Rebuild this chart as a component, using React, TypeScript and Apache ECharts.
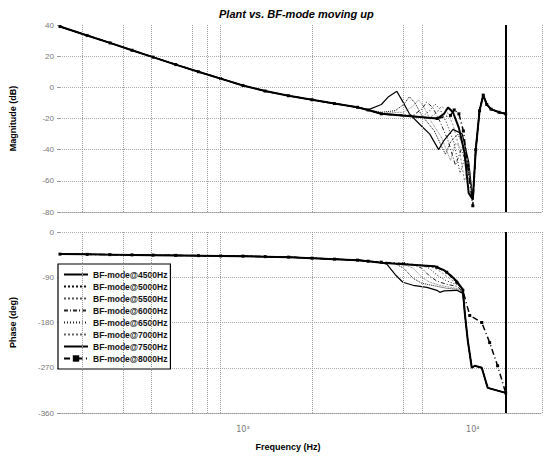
import React, { useEffect, useRef } from 'react';
import * as echarts from 'echarts';

const seriesNames = [
  'BF-mode@4500Hz', 'BF-mode@5000Hz', 'BF-mode@5500Hz', 'BF-mode@6000Hz',
  'BF-mode@6500Hz', 'BF-mode@7000Hz', 'BF-mode@7500Hz', 'BF-mode@8000Hz',
];

// shared low-frequency part (Hz, dB, deg)
const baseFreq = [160, 210, 264, 329, 406, 510, 640, 800, 1000, 1250, 1580, 2000, 2500, 3150, 3500];
const baseMag = [39, 33.3, 28.5, 23.8, 19.4, 14.6, 10, 5.6, 1.2, -2.4, -5.4, -8, -10.4, -12.8, -14.5];
const basePhase = [-44, -44.5, -45, -45.5, -46, -46.5, -47, -47.5, -48, -49, -50, -52, -54, -56, -58];

// magnitude tails per series [Hz, dB]
const magTail4500 = [[4000, -11], [4300, -6], [4670, -2.5], [4950, -9], [5300, -17], [5900, -24], [6500, -30], [7100, -40], [7500, -34], [8200, -27], [9000, -30], [9600, -48], [10000, -72]];
const magTail5000 = [[4000, -16], [4600, -15], [5000, -11], [5300, -6], [5600, -10], [6000, -18], [6800, -28], [7600, -43], [8000, -35], [8600, -30], [9300, -40], [10000, -72]];
const magTail5500 = [[4000, -16.5], [5000, -16], [5500, -12], [5800, -8], [6100, -12], [6600, -22], [7300, -32], [8000, -47], [8400, -36], [9200, -40], [10000, -72]];
const magTail6000 = [[4000, -17], [5500, -18], [6000, -14], [6300, -9.5], [6700, -13], [7200, -22], [7800, -34], [8400, -50], [8900, -40], [9500, -50], [10000, -72]];
const magTail6500 = [[4000, -17], [6000, -19], [6500, -15], [6850, -10.7], [7200, -14], [7700, -23], [8300, -36], [8800, -55], [9300, -44], [10000, -72]];
const magTail7000 = [[4000, -17], [6500, -19.5], [7000, -16], [7300, -12], [7700, -15], [8200, -24], [8700, -38], [9200, -60], [9600, -50], [10000, -72]];
const magTail7500 = [[4000, -17], [7000, -20], [7500, -17], [7800, -13], [8200, -16], [8700, -26], [9200, -42], [9600, -68], [10000, -72]];
const magTail8000 = [[4000, -17], [7000, -20], [8000, -18], [8300, -14.5], [8700, -17], [9100, -28], [9500, -50], [10000, -76]];
const magEnd = [[10300, -40], [10700, -15], [11100, -5], [11500, -11], [12000, -14], [13000, -16], [13900, -17]];

// phase tails per series [Hz, deg]
const phTail4500 = [[4000, -61], [4226, -64], [4600, -85], [4963, -100], [5500, -106], [6318, -110], [6977, -116], [7185, -120], [7500, -117], [8515, -116], [9050, -122]];
const phTail5000 = [[4000, -61], [4600, -63], [5000, -72], [5500, -92], [6000, -102], [6977, -108], [7703, -112], [8515, -114], [9050, -120]];
const phTail5500 = [[4000, -61], [5000, -64], [5500, -72], [6000, -90], [6500, -100], [7185, -106], [8000, -110], [8515, -112], [9050, -119]];
const phTail6000 = [[4000, -61], [5500, -65], [6000, -72], [6500, -88], [7000, -98], [7703, -104], [8515, -108], [9050, -118]];
const phTail6500 = [[4000, -61], [6000, -66], [6500, -73], [7000, -86], [7600, -96], [8200, -102], [8700, -106], [9050, -117]];
const phTail7000 = [[4000, -61], [6318, -67], [6977, -74], [7500, -84], [8000, -94], [8600, -102], [9050, -114]];
const phTail7500 = [[4000, -61], [6800, -68], [7500, -76], [8000, -86], [8515, -98], [9050, -114]];
const phTail8000 = [[4000, -60], [5000, -63], [6977, -70], [7703, -80], [8515, -100], [9050, -116]];
const phEnd = [[9232, -162], [9510, -216], [9900, -270], [10200, -266], [10940, -270], [11270, -290], [11610, -310], [13900, -320]];
const phEnd8000 = [[9700, -166], [10940, -180], [11840, -220], [12820, -266], [13900, -320]];

const magTicks = [-80, -60, -40, -20, 0, 20, 40];
const phaseTicks = [-360, -270, -180, -90, 0];
const gridFreqs = [200, 300, 400, 600, 700, 800, 2000, 5000, 6000];
const endFreq = 13900;

const magTails = [magTail4500, magTail5000, magTail5500, magTail6000, magTail6500, magTail7000, magTail7500, magTail8000];
const phTails = [phTail4500, phTail5000, phTail5500, phTail6000, phTail6500, phTail7000, phTail7500, phTail8000];

const lineStyles: any[] = [
  { width: 1.2, type: 'solid', color: '#000' },
  { width: 1, type: 'dotted', color: '#111' },
  { width: 0.8, type: 'dotted', color: '#555' },
  { width: 1, type: [4, 2, 1, 2], color: '#222' },
  { width: 1, type: [1, 2], color: '#222' },
  { width: 0.8, type: [2, 2], color: '#666' },
  { width: 2, type: 'solid', color: '#000' },
  { width: 1.5, type: [6, 3, 1, 3], color: '#000' },
];

const FONT = 'Liberation Sans, Arial, sans-serif';

export default function App() {
  const ref = useRef<HTMLDivElement>(null);
  useEffect(() => {
    document.body.style.margin = '0';
    if (!ref.current) return;
    const chart = echarts.init(ref.current, undefined, { renderer: 'svg' });

    const vLines = (withEnd: boolean) => ({
      silent: true,
      symbol: ['none', 'none'],
      label: { show: false },
      lineStyle: { type: 'dotted', color: '#999', width: 1 },
      data: [
        ...gridFreqs.map((f) => ({ xAxis: f })),
        { xAxis: 20000 },
        ...(withEnd ? [{ xAxis: endFreq, lineStyle: { type: 'solid', color: '#000', width: 2 } }] : []),
      ],
    });

    const series: any[] = [];
    seriesNames.forEach((name, i) => {
      const magData = baseFreq.map((f, j) => [f, baseMag[j]]).concat(magTails[i], magEnd);
      const phData = baseFreq.map((f, j) => [f, basePhase[j]]).concat(phTails[i], i === 7 ? phEnd8000 : phEnd);
      const isMarked = i === 7;
      const common = {
        type: 'line',
        name,
        symbol: isMarked ? 'rect' : 'none',
        symbolSize: 3,
        showSymbol: isMarked,
        itemStyle: { color: '#000' },
        lineStyle: lineStyles[i],
        silent: true,
        z: i === 6 ? 5 : 3,
      };
      series.push({ ...common, xAxisIndex: 0, yAxisIndex: 0, data: magData, ...(i === 0 ? { markLine: vLines(true) } : {}) });
      series.push({ ...common, xAxisIndex: 1, yAxisIndex: 1, data: phData, ...(i === 0 ? { markLine: vLines(true) } : {}) });
    });

    const xAxisBase = {
      type: 'log',
      logBase: 10,
      min: 160,
      max: 20000,
      axisTick: { show: false },
      splitLine: { show: false },
      axisLine: { onZero: false, lineStyle: { type: 'dotted', color: '#999' } },
    };

    const yAxisBase = {
      type: 'value',
      nameLocation: 'middle',
      nameTextStyle: { fontWeight: 'bold', fontSize: 9, fontFamily: FONT, color: '#000' },
      axisLine: { show: false },
      axisTick: { show: true, length: 3, lineStyle: { color: '#999' } },
      axisLabel: { fontSize: 8, color: '#777', margin: 6, fontFamily: FONT },
    };

    chart.setOption({
      animation: false,
      backgroundColor: '#fff',
      title: {
        text: 'Plant vs. BF-mode moving up',
        left: 214,
        top: 3,
        textStyle: { fontSize: 11, fontWeight: 'bold', fontStyle: 'italic', fontFamily: FONT, color: '#000' },
      },
      legend: {
        data: seriesNames.map((n, i) => (i === 7 ? { name: n, itemStyle: { opacity: 1 } } : { name: n, itemStyle: { opacity: 0 } })),
        orient: 'vertical',
        left: 58,
        top: 264,
        itemGap: 1,
        itemWidth: 24,
        itemHeight: 8,
        padding: [5, 3, 5, 5],
        borderColor: '#000',
        borderWidth: 1.2,
        backgroundColor: '#fff',
        textStyle: { fontSize: 8.5, fontWeight: 'bold', fontFamily: FONT, color: '#111', lineHeight: 11 },
      },
      grid: [
        { left: 60, right: 6, top: 25, height: 187 },
        { left: 60, right: 6, top: 232, height: 181 },
      ],
      xAxis: [
        { ...xAxisBase, gridIndex: 0, axisLabel: { show: false } },
        {
          ...xAxisBase,
          gridIndex: 1,
          axisLabel: {
            fontSize: 8,
            color: '#777',
            margin: 12,
            fontFamily: 'DejaVu Sans, sans-serif',
            showMinLabel: false,
            showMaxLabel: false,
            formatter: (v: number) => {
              const l = Math.log10(v);
              if (Math.abs(l - 3) < 0.001) return '10³';
              if (Math.abs(l - 4) < 0.001) return '10⁴';
              return '';
            },
          },
        },
      ],
      yAxis: [
        {
          ...yAxisBase, gridIndex: 0, min: magTicks[0], max: magTicks[magTicks.length - 1], interval: 20,
          name: 'Magnitude (dB)', nameGap: 43,
          splitLine: { showMaxLine: false, lineStyle: { type: 'dotted', color: '#aaa' } },
        },
        {
          ...yAxisBase, gridIndex: 1, min: phaseTicks[0], max: phaseTicks[phaseTicks.length - 1], interval: 90,
          name: 'Phase (deg)', nameGap: 43,
          splitLine: { lineStyle: { type: 'dotted', color: '#aaa' } },
        },
      ],
      graphic: [
        {
          type: 'text',
          x: 288,
          y: 447,
          style: { text: 'Frequency (Hz)', fontSize: 9, fontWeight: 'bold', fontFamily: FONT, fill: '#000', textAlign: 'center', textVerticalAlign: 'middle' },
        },
      ],
      series,
    });
    return () => chart.dispose();
  }, []);
  return <div ref={ref} style={{ width: 548, height: 456 }} />;
}
